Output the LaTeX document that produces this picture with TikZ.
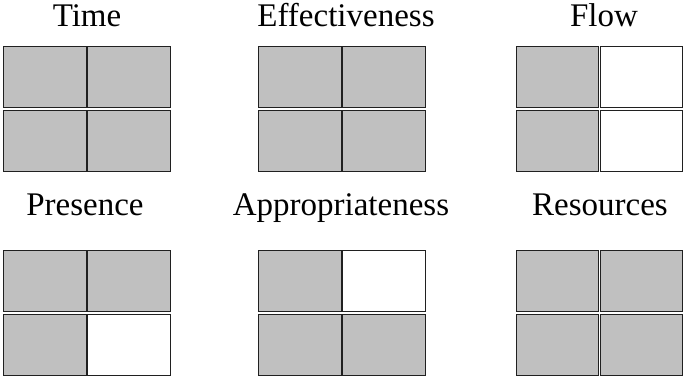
\documentclass[tikz,border=0pt]{standalone}
\usepackage{fontspec}
\setmainfont{Liberation Serif}
\definecolor{cellgray}{HTML}{C0C0C0}
\definecolor{cellline}{HTML}{202020}
\newcommand{\mkgrid}[7]{%
  \node[cell,fill=#4] (#1tl) at ({#2},{378-#3}) {};
  \node[cell,fill=#5] (#1tr) at ({#2+84},{378-#3}) {};
  \node[cell,fill=#6] (#1bl) at ({#2},{378-#3-64}) {};
  \node[cell,fill=#7] (#1br) at ({#2+84},{378-#3-64}) {};
}
\begin{document}
\begin{tikzpicture}[x=1pt,y=1pt,
  cell/.style={draw=cellline,line width=1pt,rectangle,anchor=north west,
    minimum width=82.5pt,minimum height=61pt,inner sep=0pt,outer sep=0pt},
  label/.style={anchor=base,inner sep=0pt,font=\fontsize{33}{40}\selectfont}]
\useasboundingbox (0,0) rectangle (683,378);
\mkgrid{time}{3.5}{46.5}{cellgray}{cellgray}{cellgray}{cellgray}
\mkgrid{eff}{258.5}{46.5}{cellgray}{cellgray}{cellgray}{cellgray}
\mkgrid{flow}{516}{46.5}{cellgray}{white}{cellgray}{white}
\mkgrid{pres}{3.5}{250.5}{cellgray}{cellgray}{cellgray}{white}
\mkgrid{appr}{258.5}{250.5}{cellgray}{white}{cellgray}{cellgray}
\mkgrid{res}{516}{250.5}{cellgray}{cellgray}{cellgray}{cellgray}
\node[label] (ltime) at (87,351) {Time};
\node[label] (leff) at (346,351) {Effectiveness};
\node[label] (lflow) at (604,351) {Flow};
\node[label] (lpres) at (85,162) {Presence};
\node[label] (lappr) at (341,162) {Appropriateness};
\node[label] (lres) at (600,162) {Resources};
\end{tikzpicture}
\end{document}
